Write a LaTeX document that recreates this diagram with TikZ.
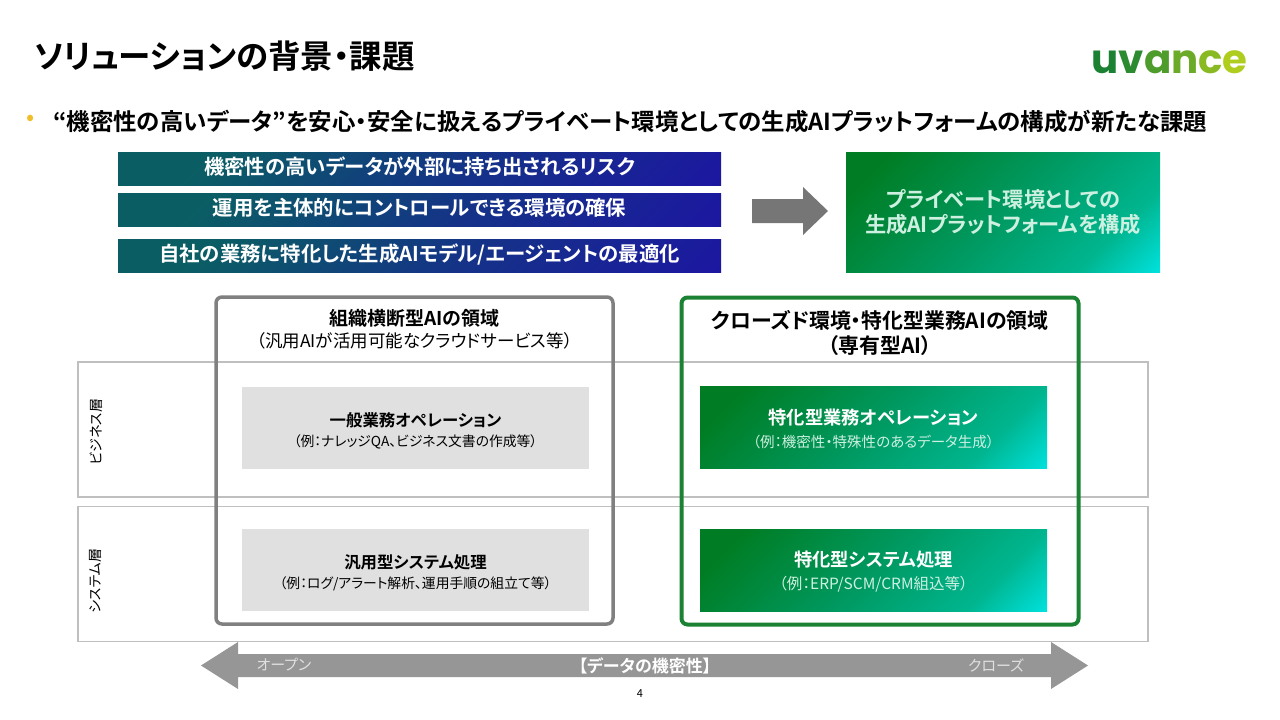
\documentclass[tikz,border=0pt]{standalone}
\usepackage{fontspec}
\setmainfont[BoldFont={Noto Sans CJK JP Bold},RawFeature=+palt]{Noto Sans CJK JP}
\newfontfamily\logofont{Poppins}
\usepackage{xcolor}
\definecolor{framegreen}{RGB}{26,130,50}
\definecolor{framegray}{RGB}{128,128,128}
\definecolor{layergray}{RGB}{191,191,191}
\definecolor{boxgray}{RGB}{224,224,224}
\definecolor{arrowgray}{RGB}{118,118,118}
\definecolor{axisgray}{RGB}{150,150,150}
\definecolor{notegreen}{RGB}{205,240,225}
\definecolor{bulletyellow}{RGB}{240,190,40}
\definecolor{logolime}{RGB}{175,205,30}
\pgfdeclarehorizontalshading{greenfade}{100bp}{
  rgb(0bp)=(0,.49,.14);
  rgb(22bp)=(0,.49,.14);
  rgb(50bp)=(0,.6,.38);
  rgb(72bp)=(0,.71,.56);
  rgb(86bp)=(0,.89,.88);
  rgb(100bp)=(0,.89,.88)}
\pgfdeclarehorizontalshading{bluefade}{100bp}{
  rgb(0bp)=(.04,.37,.39);
  rgb(25bp)=(.04,.37,.39);
  rgb(55bp)=(.08,.2,.53);
  rgb(85bp)=(.11,.09,.63);
  rgb(100bp)=(.11,.09,.63)}
\tikzset{
  bluebox/.style={shading=bluefade,shading angle=-45,text=white,font=\fontsize{20.4}{24}\selectfont\bfseries,
    text height=16pt,text depth=4.4pt,minimum width=603pt,minimum height=33pt,inner sep=0pt},
  greenbox/.style={shading=greenfade,shading angle=-45,text=notegreen,align=center,
    font=\fontsize{14}{24}\selectfont,minimum width=347pt,minimum height=82pt,inner sep=0pt},
  graybox/.style={fill=boxgray,align=center,font=\fontsize{14}{20}\selectfont,
    minimum width=347pt,minimum height=82pt,inner sep=0pt},
  layerbox/.style={draw=layergray,line width=1.5pt,minimum width=1070pt,minimum height=135pt,inner sep=0pt},
  zonebox/.style={rounded corners=6pt,line width=3.5pt,minimum width=397pt,minimum height=327pt,inner sep=0pt},
  zonehead/.style={align=center,inner sep=0pt},
  sidelabel/.style={rotate=90,font=\fontsize{14}{16}\selectfont},
  axistext/.style={text=boxgray,font=\fontsize{15}{17}\selectfont}
}
\newcommand\HeadText[1]{{\fontsize{16.4}{20}\selectfont\bfseries\rule{0pt}{20pt}#1}}
\newcommand\NoteText[1]{{\fontsize{13.8}{20}\selectfont #1}}
\newcommand\GreenHead[1]{{\color{white}\fontsize{18.3}{24}\selectfont\bfseries\rule{0pt}{19pt}#1}}
\begin{document}
\begin{tikzpicture}[x=1pt,y=-1pt]
\useasboundingbox (0,0) rectangle (1280,720);
\fill[white] (0,0) rectangle (1280,720);
\node[anchor=west,inner sep=0pt,font=\fontsize{32.5}{36}\selectfont\bfseries] (title) at (34,56) {ソリューションの背景・課題};
\node[inner sep=0pt,text=bulletyellow,font=\fontsize{24}{26}\selectfont] (bullet) at (31,120) {•};
\node[anchor=west,inner sep=0pt,font=\fontsize{23.45}{28}\selectfont\bfseries] (lead) at (53,122)
  {“機密性の高いデータ”を安心・安全に扱えるプライベート環境としての生成AIプラットフォームの構成が新たな課題};
\node[inner sep=0pt,anchor=east,font=\logofont\fontsize{40.3}{44}\selectfont\bfseries] (logo) at (1248,62)
  {\textcolor{framegreen}{u}\textcolor{logolime!12!framegreen}{v}\textcolor{logolime!35!framegreen}{a}\textcolor{logolime!55!framegreen}{n}\textcolor{logolime!75!framegreen}{c}\textcolor{logolime}{e}};

% issues and the answer
\node[bluebox] (risk) at (419.5,168.5) {機密性の高いデータが外部に持ち出されるリスク};
\node[bluebox] (control) at (419.5,209.5) {運用を主体的にコントロールできる環境の確保};
\node[bluebox] (tuning) at (419.5,255.5) {自社の業務に特化した生成AIモデル/エージェントの最適化};
\fill[arrowgray] (752,199) -- (803,199) -- (803,187) -- (828,211) -- (803,235) -- (803,223) -- (752,223) -- cycle;
\node[greenbox,minimum width=314pt,minimum height=120pt,font=\fontsize{21.2}{25}\selectfont\bfseries] (platform) at (1003,212)
  {プライベート環境としての\\生成AIプラットフォームを構成};

% layers
\node[layerbox] (bizlayer) at (613,429.5) {};
\node[layerbox] (syslayer) at (613,574) {};
\node[sidelabel] (bizlabel) at (96,432) {ビジネス層};
\node[sidelabel] (syslabel) at (96,581) {システム層};

% zones
\node[zonebox,draw=framegray] (openzone) at (414.5,460.5) {};
\node[zonebox,draw=framegreen,line width=4pt] (closedzone) at (880,461) {};
\node[zonehead,font=\fontsize{17.5}{22}\selectfont] (openhead) at (414.5,329) {{\fontsize{19}{22}\selectfont\bfseries 組織横断型AIの領域}\\（汎用AIが活用可能なクラウドサービス等）};
\node[zonehead,font=\fontsize{20.9}{25}\selectfont\bfseries] (closedhead) at (880,333) {クローズド環境・特化型業務AIの領域\\（専有型AI）};

\node[graybox] (generalop) at (415.5,427.5) {\HeadText{一般業務オペレーション}\\\NoteText{（例：ナレッジQA、ビジネス文書の作成等）}};
\node[graybox] (generalsys) at (415.5,570) {\HeadText{汎用型システム処理}\\\NoteText{（例：ログ/アラート解析、運用手順の組立て等）}};
\node[greenbox] (specialop) at (873.5,427.5) {\GreenHead{特化型業務オペレーション}\\[-1pt]{\fontsize{14.5}{24}\selectfont（例：機密性・特殊性のあるデータ生成）}};
\node[greenbox] (specialsys) at (873.5,570) {\GreenHead{特化型システム処理}\\[-1pt]{\fontsize{15.5}{24}\selectfont（例：ERP/SCM/CRM組込等）}};

% data axis
\fill[axisgray] (201,665.5) -- (238,642) -- (238,654) -- (1051,654) -- (1051,642) -- (1088,665.5) -- (1051,689) -- (1051,677) -- (238,677) -- (238,689) -- cycle;
\node[axistext] (openlabel) at (284,665) {オープン};
\node[axistext] (closedlabel) at (996,665) {クローズ};
\node[text=white,font=\fontsize{17}{19}\selectfont\bfseries] (axislabel) at (645,666) {【データの機密性】};
\node[font=\fontsize{11}{13}\selectfont] (pageno) at (640,694) {4};
\end{tikzpicture}
\end{document}
